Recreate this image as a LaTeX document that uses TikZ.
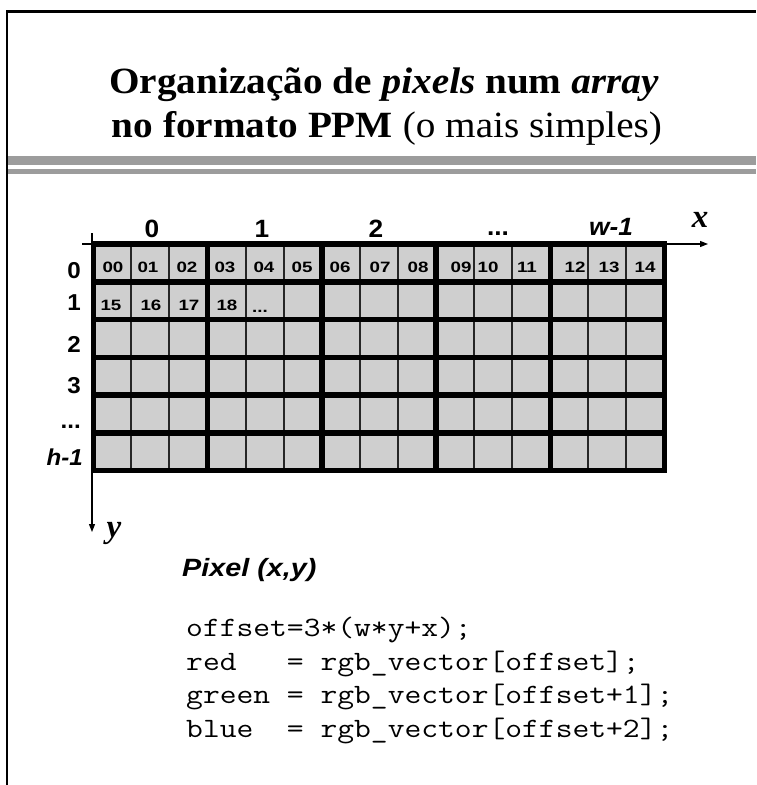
\documentclass[tikz,border=0pt]{standalone}
\usepackage{fontspec}
\usepackage{graphicx}
\setmainfont{Liberation Serif}
\setsansfont{Liberation Sans}
\usetikzlibrary{arrows.meta}

\definecolor{cellgray}{RGB}{207,207,207}
\definecolor{bargray}{RGB}{156,156,156}
\newcommand\wideby[2]{\scalebox{#1}[1]{#2}}

\begin{document}
\begin{tikzpicture}[x=1pt,y=-1pt,
  titletext/.style={font=\fontsize{37}{44}\selectfont\bfseries, anchor=base, inner sep=0pt},
  collabel/.style={font=\fontsize{25}{25}\selectfont\sffamily\bfseries, anchor=base, inner sep=0pt},
  rowlabel/.style={font=\fontsize{23}{23}\selectfont\sffamily\bfseries, anchor=base east, inner sep=0pt},
  cellnum/.style={font=\fontsize{15}{15}\selectfont\sffamily\bfseries, anchor=base, inner sep=0pt},
  axislabel/.style={font=\fontsize{33}{33}\selectfont\bfseries\itshape, anchor=base, inner sep=0pt},
  codeline/.style={font=\fontsize{28}{28}\selectfont\ttfamily, anchor=base west, inner sep=0pt},
  axisline/.style={line width=1.2pt, -{Triangle[length=8pt,width=6pt]}},
  thinrule/.style={line width=2pt, black!85},
  thickrule/.style={line width=5.5pt, black, line cap=rect},
]
\useasboundingbox (0,0) rectangle (756,785);

% slide frame and header bars
\draw[line width=2.7pt] (7,785) -- (7,11.3) -- (756,11.3);
\fill[bargray] (8,156) rectangle (756,164.5);
\fill[bargray] (8,169) rectangle (756,174);

% title
\node[titletext] (title1) at (384,93)
  {\wideby{1.06}{Organização de \textit{pixels} num \textit{array}}};
\node[titletext] (title2) at (387,137)
  {\wideby{1.06}{no formato PPM {\mdseries(o mais simples)}}};

% axes
\coordinate (xstart) at (82,244);
\coordinate (xend) at (708,244);
\coordinate (ystart) at (92,233);
\coordinate (yend) at (92,532);
\draw[axisline] (xstart) -- (xend);
\draw[axisline] (ystart) -- (yend);
\node[axislabel] (xlab) at (700,227) {x};
\node[axislabel] (ylab) at (114,537) {y};

% pixel grid: 15 columns in groups of 3, 6 rows
\def\gx{93.3}\def\gy{244}\def\cw{38.08}\def\rh{37.75}
\fill[cellgray] (\gx,\gy) rectangle ({\gx+15*\cw},{\gy+6*\rh});
\foreach \i in {1,2,4,5,7,8,10,11,13,14}
  \draw[thinrule] ({\gx+\i*\cw},\gy) -- ({\gx+\i*\cw},{\gy+6*\rh});
\foreach \i in {0,3,6,9,12,15}
  \draw[thickrule] ({\gx+\i*\cw},\gy) -- ({\gx+\i*\cw},{\gy+6*\rh});
\foreach \j in {0,...,6}
  \draw[thickrule] (\gx,{\gy+\j*\rh}) -- ({\gx+15*\cw},{\gy+\j*\rh});

% column indices
\node[collabel] (c0) at (152,237) {\wideby{1.05}{0}};
\node[collabel] (c1) at (262,237) {\wideby{1.05}{1}};
\node[collabel] (c2) at (376,237) {\wideby{1.05}{2}};
\node[collabel] (c3) at (498,235) {\wideby{1.05}{...}};
\node[collabel] (c4) at (611,235) {\wideby{1.05}{\itshape w-1}};

% row indices
\node[rowlabel] (r0) at (81,278) {\wideby{1.05}{0}};
\node[rowlabel] (r1) at (81,310) {\wideby{1.05}{1}};
\node[rowlabel] (r2) at (81,352) {\wideby{1.05}{2}};
\node[rowlabel] (r3) at (81,393) {\wideby{1.05}{3}};
\node[rowlabel] (r4) at (81,428) {\wideby{1.05}{...}};
\node[rowlabel] (r5) at (83,465) {\wideby{1.05}{\itshape h-1}};

% byte indices, first row
\foreach \n/\x in {00/113,01/148,02/187,03/225,04/264,05/302,06/340,07/380,
                   08/418,09/461,10/488,11/527,12/575,13/609,14/645}
  \node[cellnum] (n\n) at (\x,272.5) {\wideby{1.25}{\n}};
% byte indices, second row
\foreach \n/\x in {15/111,16/151,17/189,18/227}
  \node[cellnum] (n\n) at (\x,310.5) {\wideby{1.25}{\n}};
\node[cellnum] (nmore) at (260,312) {\wideby{1.25}{...}};

% pixel addressing
\node[font=\fontsize{25}{25}\selectfont\sffamily\bfseries\itshape, anchor=base west, inner sep=0pt]
  (pixel) at (182,576) {\wideby{1.15}{Pixel (x,y)}};
\node[codeline] (code1) at (186,636.5) {\wideby{1.165}{offset=3*(w*y+x);}};
\node[codeline] (code2) at (186,670)   {\wideby{1.165}{red\ \ \ =\ rgb\_vector[offset];}};
\node[codeline] (code3) at (186,703.5) {\wideby{1.165}{green\ =\ rgb\_vector[offset+1];}};
\node[codeline] (code4) at (186,737)   {\wideby{1.165}{blue\ \ =\ rgb\_vector[offset+2];}};
\end{tikzpicture}
\end{document}
